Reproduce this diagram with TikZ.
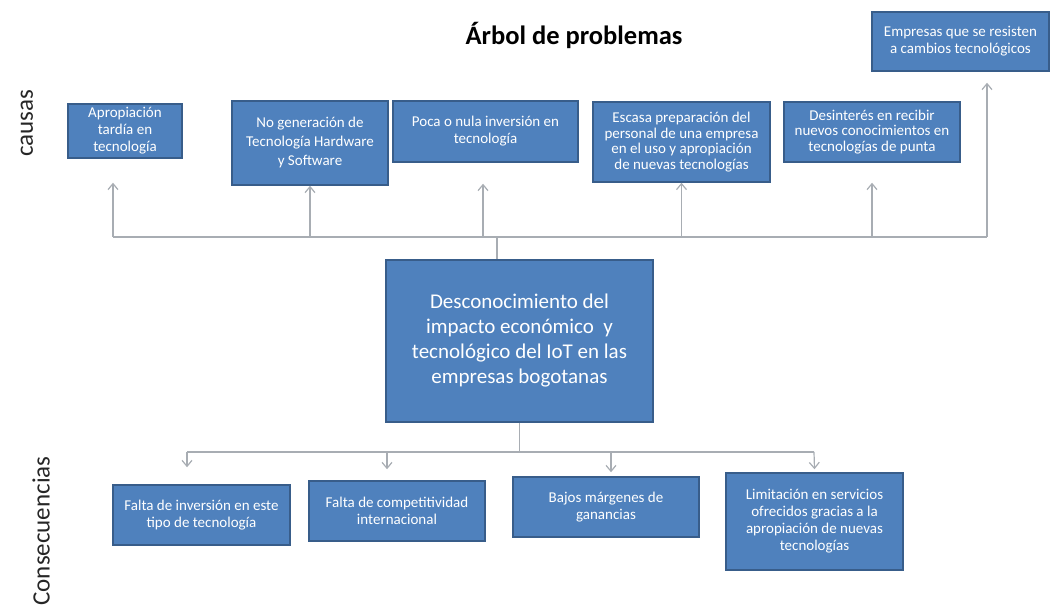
\documentclass[tikz,border=0pt]{standalone}
\usepackage{fontspec}
\setmainfont{Carlito}
\usetikzlibrary{arrows.meta}
\definecolor{boxfill}{HTML}{4F81BD}
\definecolor{boxline}{HTML}{385D8A}
\definecolor{conncol}{HTML}{A8ADB3}
\begin{document}
\begin{tikzpicture}[x=1pt,y=-1pt,
  box/.style={draw=boxline, fill=boxfill, text=white, align=center, inner sep=0pt,
    line width=1.5pt, font=\fontsize{15}{17}\selectfont},
  conn/.style={draw=conncol, line width=1.2pt},
  arr/.style={conn, -{Straight Barb[length=6pt,width=10pt]}},
  lbl/.style={text=black!85, font=\fontsize{25}{30}\selectfont}]
\useasboundingbox (0,0) rectangle (1060,609);
% title and side labels
\node[font=\bfseries\fontsize{26.5}{30}\selectfont] (title) at (574,35) {Árbol de problemas};
\node[lbl, rotate=90] (causas) at (27,123) {causas};
\node[lbl, rotate=90] (cons) at (41,531) {Consecuencias};
% causes
\node[box, minimum width=114pt, minimum height=54pt] (A) at (125,131) {Apropiación\\tardía en\\tecnología};
\node[box, minimum width=156pt, minimum height=84pt, font=\fontsize{15}{19}\selectfont] (B) at (310,143) {No generación de\\Tecnología Hardware\\y Software};
\node[box, minimum width=185pt, minimum height=61pt] (C) at (485.5,131.5) {Poca o nula inversión en\\tecnología};
\node[box, minimum width=177pt, minimum height=80pt, font=\fontsize{15}{15.5}\selectfont] (D) at (681.5,142) {Escasa preparación del\\personal de una empresa\\en el uso y apropiación\\de nuevas tecnologías};
\node[box, minimum width=176pt, minimum height=60pt, font=\fontsize{15}{15.5}\selectfont] (E) at (872,132) {Desinterés en recibir\\nuevos conocimientos en\\tecnologías de punta};
\node[box, minimum width=177pt, minimum height=59pt] (F) at (960.5,41.5) {Empresas que se resisten\\a cambios tecnológicos};
% central problem
\node[box, minimum width=267pt, minimum height=162pt, font=\fontsize{21}{25}\selectfont] (M) at (519.5,341) {Desconocimiento del\\impacto económico~ y\\tecnológico del IoT en las\\empresas bogotanas};
% consequences
\node[box, minimum width=177pt, minimum height=60pt] (G) at (201.5,515) {Falta de inversión en este\\tipo de tecnología};
\node[box, minimum width=176pt, minimum height=60pt] (H) at (397,511) {Falta de competitividad\\internacional};
\node[box, minimum width=186pt, minimum height=60pt] (I) at (606,507) {Bajos márgenes de\\ganancias};
\node[box, minimum width=177pt, minimum height=97pt] (J) at (814.5,521.5) {Limitación en servicios\\ofrecidos gracias a la\\apropiación de nuevas\\tecnologías};
% top connectors
\coordinate (busL) at (113,237);
\coordinate (busR) at (987,237);
\coordinate (mt) at ([xshift=-22.5pt]M.north);
\draw[conn] (busL) -- (busR);
\draw[conn] (mt) -- (mt |- busL);
\draw[arr] (busL) -- ([xshift=-12pt,yshift=-24pt]A.south);
\draw[arr] (B.south |- busL) -- (B.south);
\draw[arr] ([xshift=-2.5pt]C.south |- busL) -- ([xshift=-2.5pt,yshift=-21pt]C.south);
\draw[arr] (D.south |- busL) -- (D.south);
\draw[arr] (E.south |- busL) -- ([yshift=-20pt]E.south);
\draw[arr] (busR) -- ([xshift=26.5pt,yshift=-11pt]F.south);
% bottom connectors
\coordinate (bbL) at (187,452);
\coordinate (bbR) at (814,452);
\draw[conn] (M.south) -- (M.south |- bbL);
\draw[conn] (bbL) -- (bbR);
\draw[arr] (bbL) -- ([xshift=-14.5pt,yshift=17pt]G.north);
\draw[arr] ([xshift=-10pt]H.north |- bbL) -- ([xshift=-10pt,yshift=11pt]H.north);
\draw[arr] ([xshift=5pt]I.north |- bbL) -- ([xshift=5pt,yshift=4pt]I.north);
\draw[arr] (bbR) -- ([yshift=3pt]J.north);
\end{tikzpicture}
\end{document}
